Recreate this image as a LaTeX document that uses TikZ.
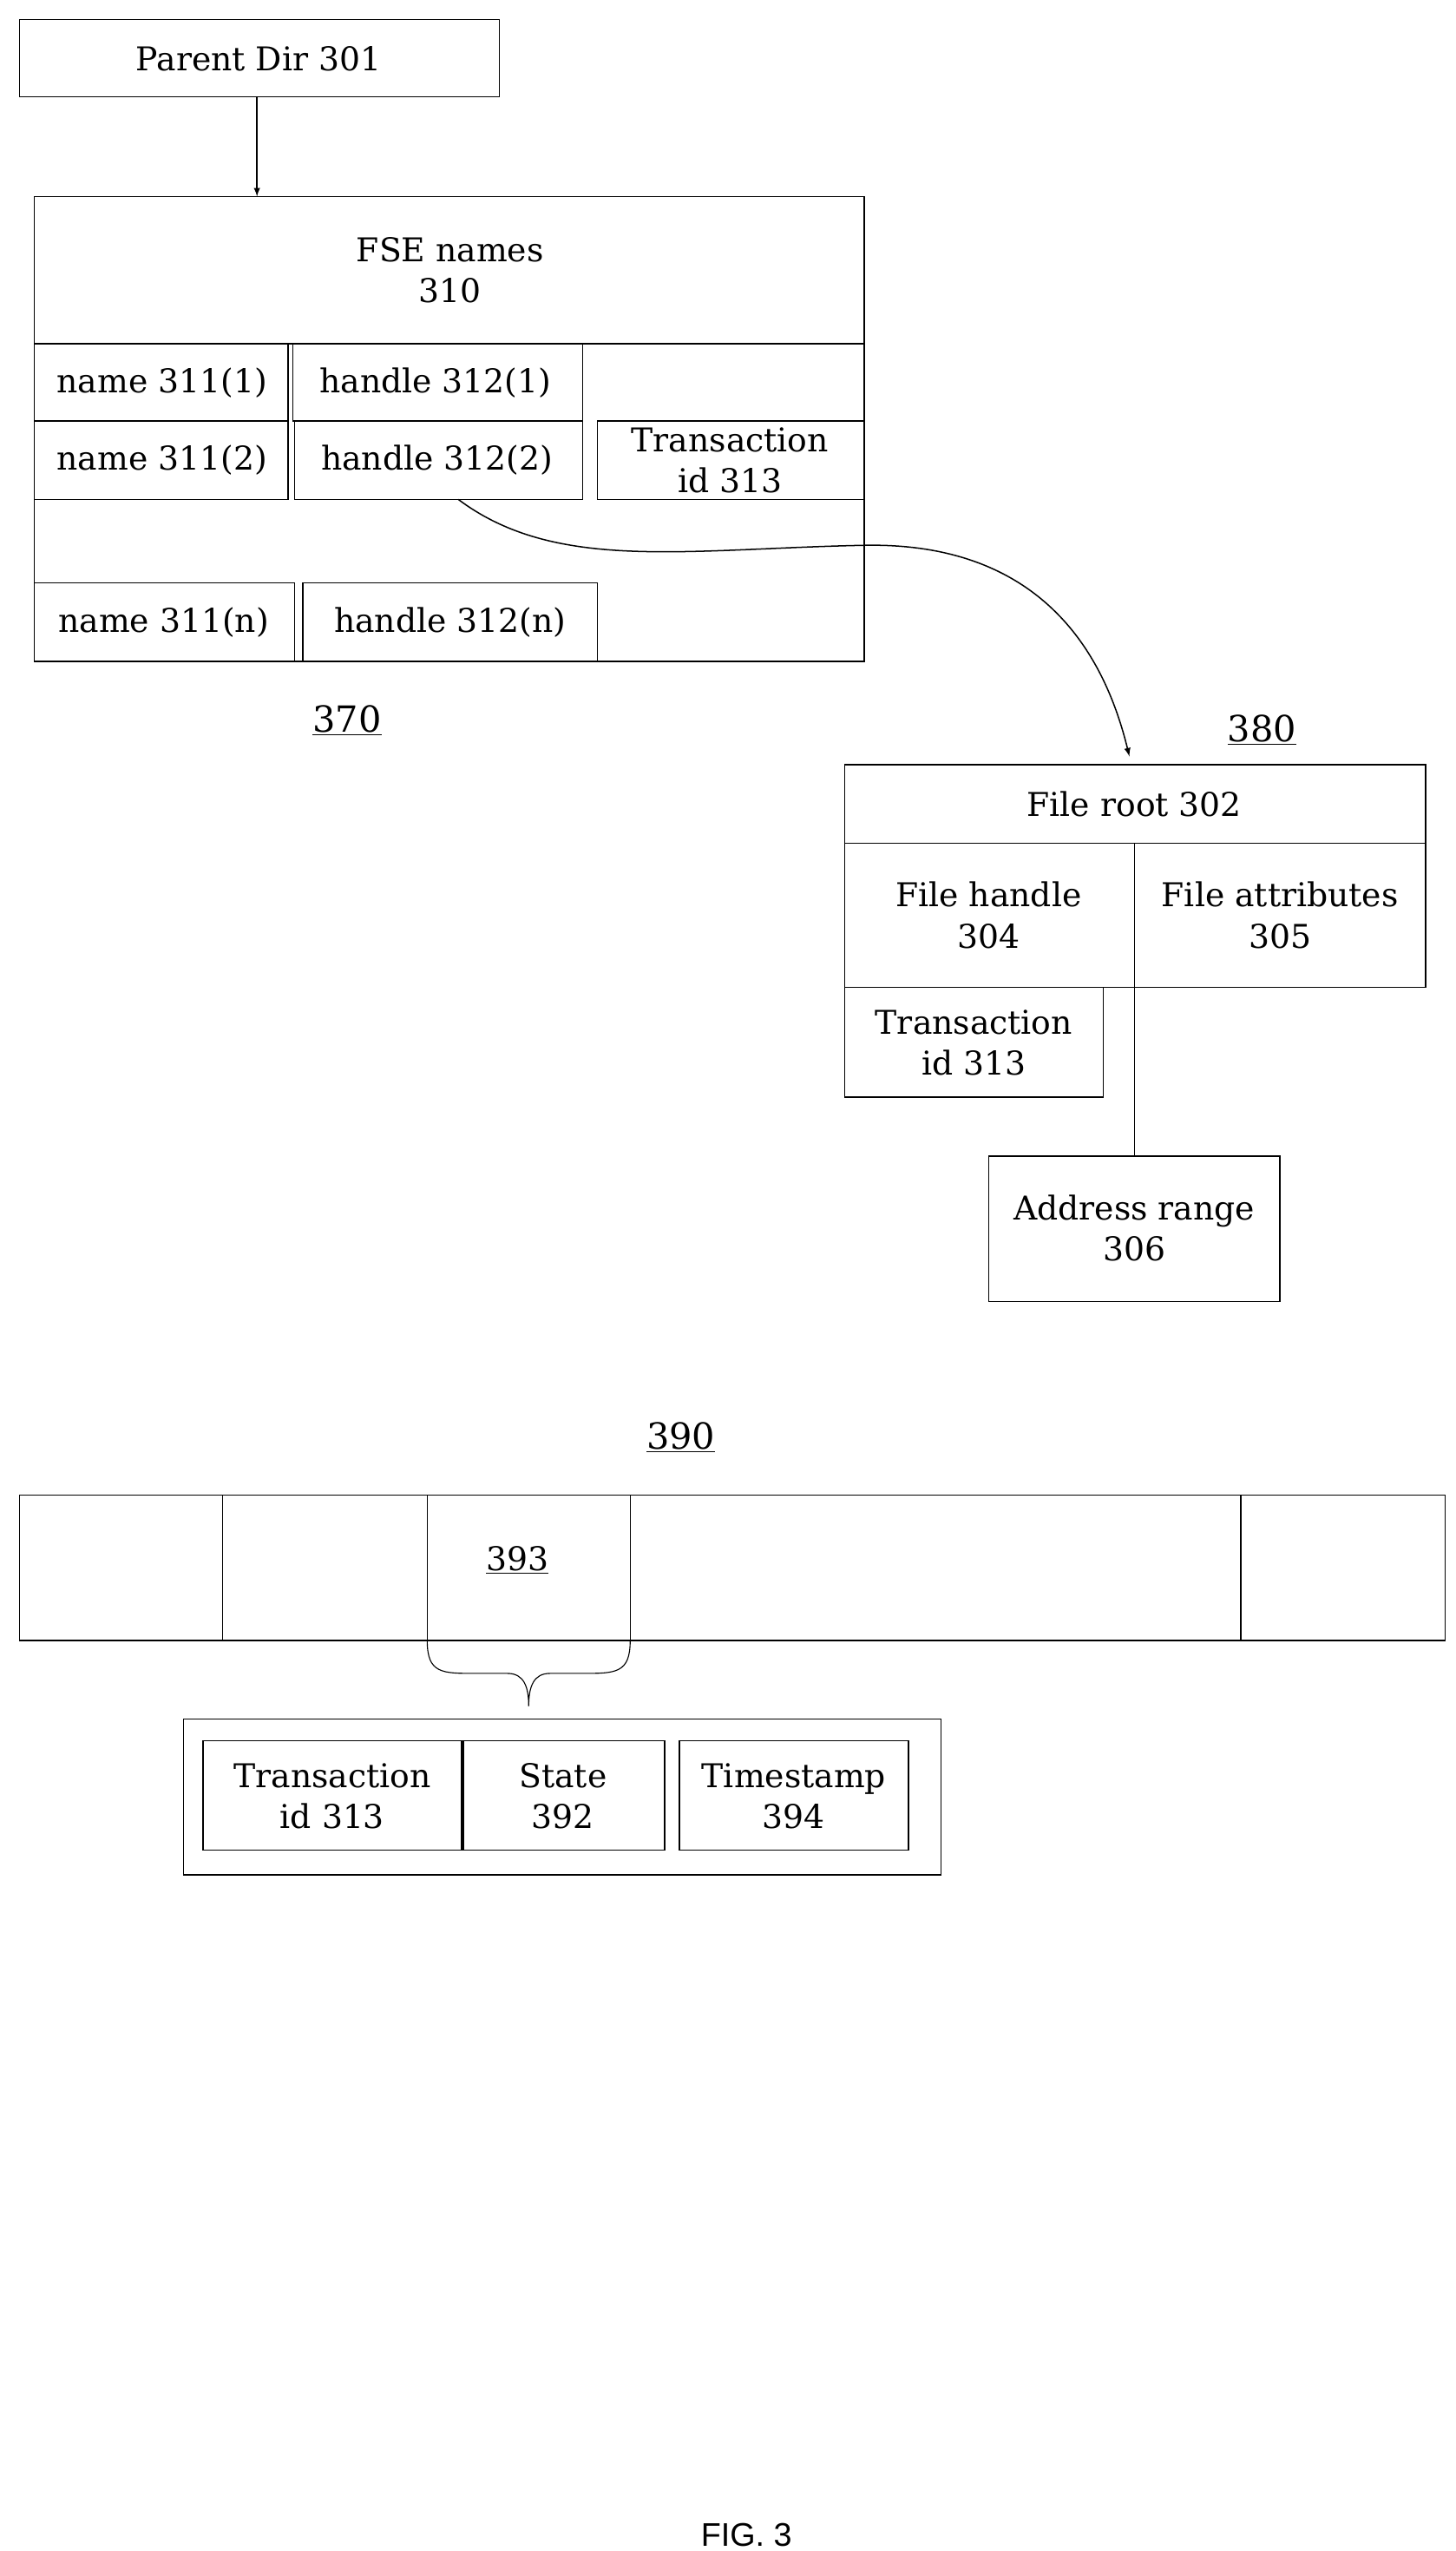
\documentclass[tikz,border=0pt]{standalone}
\usepackage{fontspec}
\setmainfont{DejaVu Serif}
\usetikzlibrary{decorations.pathreplacing}
\begin{document}
\begin{tikzpicture}[x=1pt,y=-1pt,
  bx/.style={draw,line width=0.8pt},
  t/.style={font=\fontsize{20}{25}\selectfont,align=center,inner sep=0pt},
  lbl/.style={font=\fontsize{22}{26}\selectfont,inner sep=0pt}]
\useasboundingbox (0,0) rectangle (889,1558);
% parent
\draw[bx] (12,12) rectangle (305,59);
\node[t] (pd) at (158,36) {Parent Dir 301};
\coordinate (pdb) at (157,59);
\coordinate (bigt) at (157,120);
\draw[-latex,line width=0.8pt] (pdb) -- (bigt);
% big box
\draw[bx] (21,120) rectangle (528,404);
\draw[bx] (21,210) -- (528,210);
\node[t] (fse) at (275,165) {FSE names\\310};
\draw[bx] (21,210) rectangle (176,257); \node[t] at (99,234) {name 311(1)};
\draw[bx] (179,210) rectangle (356,257); \node[t] at (266,234) {handle 312(1)};
\draw[bx] (21,257) rectangle (176,305); \node[t] at (99,281) {name 311(2)};
\draw[bx] (180,257) rectangle (356,305); \node[t] (h2) at (267,281) {handle 312(2)};
\draw[bx] (365,257) rectangle (528,305); \node[t] at (446,281) {Transaction\\id 313};
\draw[bx] (21,356) rectangle (180,404); \node[t] at (100,380) {name 311(n)};
\draw[bx] (185,356) rectangle (365,404); \node[t] at (275,380) {handle 312(n)};
\node[lbl] at (212,440) {\underline{370}};
% 380
\node[lbl] at (771,446) {\underline{380}};
\draw[bx] (516,467) rectangle (871,515); \node[t] (fr) at (693,491) {File root 302};
\draw[bx] (516,515) rectangle (693,603); \node[t] at (604,559) {File handle\\304};
\draw[bx] (693,515) rectangle (871,603); \node[t] at (782,559) {File attributes\\305};
\draw[bx] (516,603) rectangle (674,670); \node[t] at (595,637) {Transaction\\id 313};
\draw[bx] (604,706) rectangle (782,795); \node[t] (ar) at (693,750) {Address range\\306};
\draw[bx] (693,603) -- (693,706);
\coordinate (cs) at (280,305);
\coordinate (ce) at (690,462);
\draw[-latex,line width=0.8pt] (cs) .. controls (340,350) and (420,335) .. (530,333) .. controls (620,332) and (670,380) .. (ce);
% 390
\node[lbl] at (416,878) {\underline{390}};
\draw[bx] (12,913) rectangle (883,1002);
\foreach \x in {136,261,385,758} \draw[bx] (\x,913) -- (\x,1002);
\node[t] at (316,953) {\underline{393}};
\draw[line width=0.6pt] (261,1002) .. controls (261,1022) and (270,1022) .. (290,1022) -- (310,1022) .. controls (320,1022) and (323,1030) .. (323,1042) .. controls (323,1030) and (326,1022) .. (336,1022) -- (356,1022) .. controls (376,1022) and (385,1022) .. (385,1002);
\draw[bx] (112,1050) rectangle (575,1145);
\draw[bx] (124,1063) rectangle (282,1130); \node[t] at (203,1097) {Transaction\\id 313};
\draw[bx] (283,1063) rectangle (406,1130); \node[t] at (344,1097) {State\\392};
\draw[bx] (415,1063) rectangle (555,1130); \node[t] at (485,1097) {Timestamp\\394};
\node[font=\fontsize{20}{24}\selectfont\fontspec{Liberation Sans}] at (456,1548) {FIG. 3};
\end{tikzpicture}
\end{document}
